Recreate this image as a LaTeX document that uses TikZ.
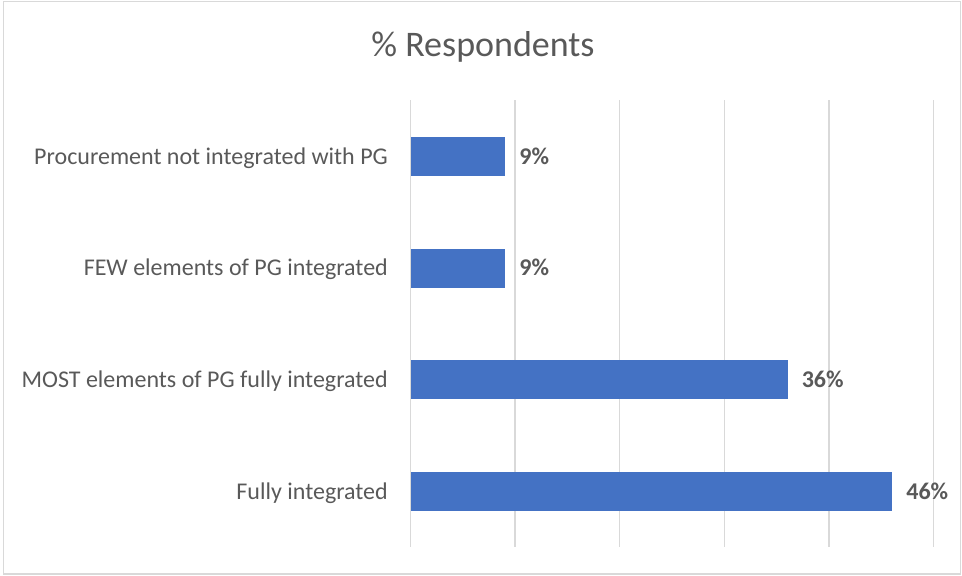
\documentclass[tikz,border=0pt]{standalone}
\usepackage{fontspec}
\setmainfont{Carlito}
\definecolor{barblue}{HTML}{4472C4}
\definecolor{txtgray}{HTML}{595959}
\definecolor{gridgray}{HTML}{D9D9D9}
\tikzset{
  gridline/.style={draw=gridgray, line width=1.3pt},
  bar/.style={fill=barblue, draw=none},
  catlabel/.style={anchor=base east, inner sep=0pt, text=txtgray, font=\fontsize{24}{28}\selectfont},
  vallabel/.style={anchor=base west, inner sep=0pt, text=txtgray, font=\fontsize{24}{28}\selectfont\bfseries},
  charttitle/.style={anchor=base, inner sep=0pt, text=txtgray, font=\fontsize{36}{42}\selectfont},
}
\begin{document}
\begin{tikzpicture}[x=1pt, y=-1pt]
  \useasboundingbox (0,0) rectangle (962,576);
  % chart frame
  \draw[draw=gridgray, line width=1.2pt] (3.5,1.5) rectangle (960.5,574);
  % title
  \node[charttitle] (title) at (483,56) {\% Respondents};
  % vertical grid lines, 0% to 50% in steps of 10%
  \foreach \i in {0,...,5} {
    \draw[gridline] ({410.5+104.6*\i},100) -- ({410.5+104.6*\i},547);
  }
  % bars, categories and values
  \foreach \v/\lab/\k in {9/{Procurement not integrated with PG}/0,
                          9/{FEW elements of PG integrated}/1,
                          36/{MOST elements of PG fully integrated}/2,
                          46/{Fully integrated}/3} {
    \path[bar] (411,{137+111.7*\k}) rectangle ({411+10.46*\v},{176+111.7*\k});
    \node[catlabel] (cat\k) at (388,{164+111.7*\k}) {\lab};
    \node[vallabel] (val\k) at ({425+10.46*\v},{164+111.7*\k}) {\v\%};
  }
\end{tikzpicture}
\end{document}
